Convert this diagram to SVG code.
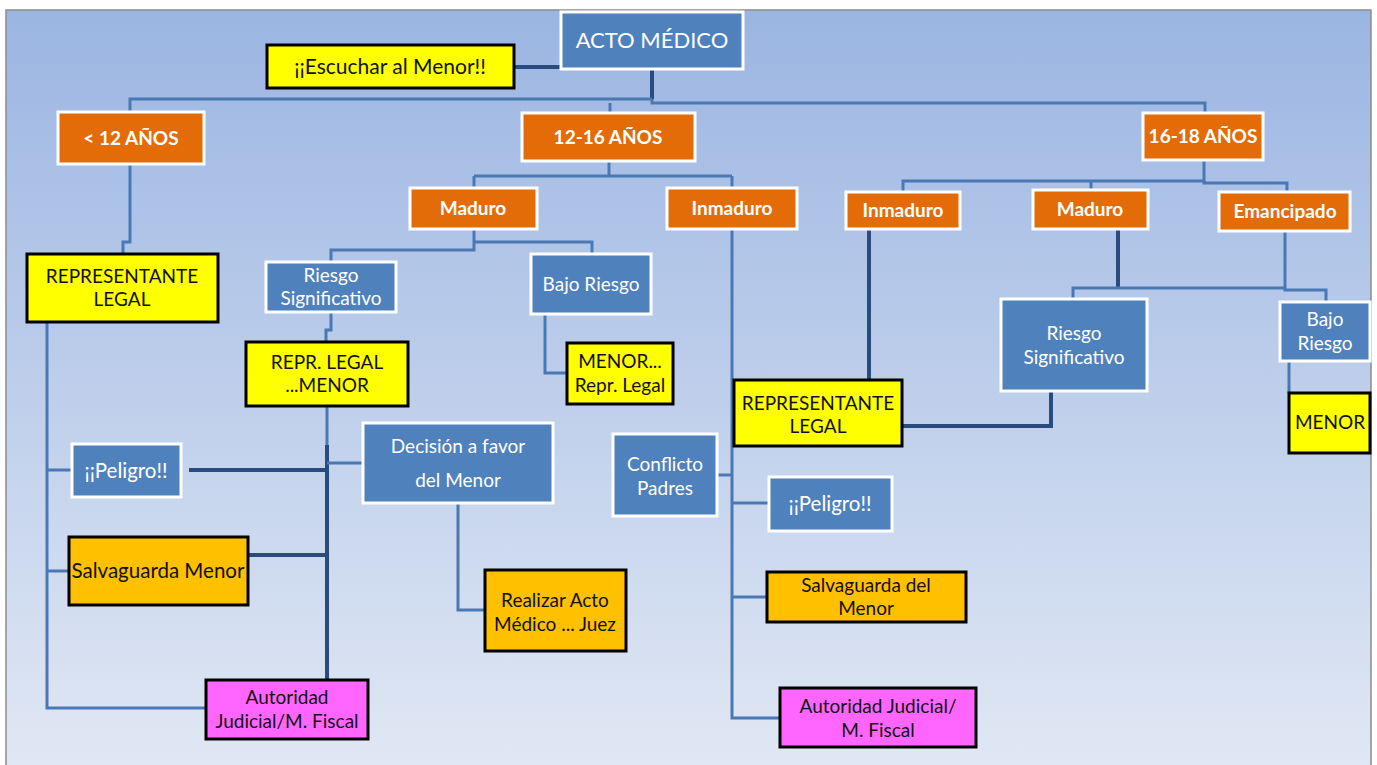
<svg xmlns="http://www.w3.org/2000/svg" width="1377" height="765" viewBox="0 0 1377 765">
<defs>
<linearGradient id="bg" x1="0" y1="0" x2="0" y2="1">
<stop offset="0" stop-color="#9bb5e2"/>
<stop offset="1" stop-color="#e1e8f4"/>
</linearGradient>
</defs>
<style>
text{font-family:Lato,"Open Sans","Liberation Sans",sans-serif;text-anchor:middle;font-size:19px}
.blue rect{fill:#4f81bd;stroke:#fff;stroke-width:3}
.blue text{fill:#fff}
.or rect{fill:#e36c09;stroke:#fff;stroke-width:3}
.or text{fill:#fff;font-weight:bold}
.ye rect{fill:#ffff00;stroke:#000;stroke-width:3}
.go rect{fill:#ffc000;stroke:#000;stroke-width:3}
.ma rect{fill:#ff66ff;stroke:#000;stroke-width:3}
.ye text,.go text,.ma text{fill:#111}
.c{fill:none;stroke:#4a78b4;stroke-width:3}
.d{fill:none;stroke:#284c80;stroke-width:4}
.big{font-size:20.5px}
</style>
<rect x="0" y="0" width="1377" height="765" fill="#fff"/>
<rect x="6" y="10" width="1365" height="760" fill="url(#bg)" stroke="#8c8c8c" stroke-width="1.5"/>
<g id="connectors">
<path class="d" d="M514,67 H561"/>
<path class="d" d="M652,69 V99"/>
<path class="c" d="M652,99 H130 V112"/>
<path class="c" d="M652,99 V103 H1205 V113"/>
<path class="c" d="M610,103 V113"/>
<path class="c" d="M130,164 V242 H123 V254"/>
<path class="c" d="M609,161 V176"/>
<path class="c" d="M474,176 H732"/>
<path class="c" d="M474,176 V188"/>
<path class="c" d="M732,176 V188"/>
<path class="c" d="M474,229 V250 H331 V262"/>
<path class="c" d="M474,242 H592 V254"/>
<path class="c" d="M331,312 V330 H326 V342"/>
<path class="c" d="M327,406 V445"/>
<path class="d" d="M327,445 V680"/>
<path class="d" d="M189,470 H327"/>
<path class="c" d="M327,463 H363"/>
<path class="d" d="M248,555 H327"/>
<path class="c" d="M47,322 V708 H206"/>
<path class="c" d="M47,470 H72"/>
<path class="c" d="M47,571 H69"/>
<path class="c" d="M545,314 V373 H567"/>
<path class="c" d="M458,503 V610 H485"/>
<path class="c" d="M732,229 V718 H780"/>
<path class="c" d="M717,475 H732"/>
<path class="c" d="M732,503 H769"/>
<path class="c" d="M732,597 H767"/>
<path class="c" d="M1204,160 V181 H903 V192"/>
<path class="c" d="M1091,181 V190"/>
<path class="c" d="M1204,181 V183 H1287 V192"/>
<path class="d" d="M869,229 V380"/>
<path class="d" d="M1118,229 V288"/>
<path class="c" d="M1073,299 V288 H1285"/>
<path class="c" d="M1285,231 V290 H1326 V302"/>
<path class="d" d="M1051,391 V426 H902"/>
<path class="c" d="M1289,361 V393"/>
</g>
<g id="acto" class="blue"><rect x="561" y="12" width="182" height="57"/><text x="652" y="48" style="font-size:22px">ACTO MÉDICO</text></g>
<g id="escuchar" class="ye"><rect x="267" y="45" width="247" height="43"/><text x="390" y="74" style="font-size:21px">¡¡Escuchar al Menor!!</text></g>
<g id="lt12" class="or"><rect x="58" y="112" width="146" height="52"/><text x="131" y="145">&lt; 12 AÑOS</text></g>
<g id="a1216" class="or"><rect x="522" y="113" width="173" height="48"/><text x="608" y="144">12-16 AÑOS</text></g>
<g id="a1618" class="or"><rect x="1143" y="113" width="120" height="47"/><text x="1203" y="143">16-18 AÑOS</text></g>
<g id="maduro1" class="or"><rect x="410" y="188" width="127" height="41"/><text x="473" y="215">Maduro</text></g>
<g id="inmaduro1" class="or"><rect x="667" y="188" width="130" height="41"/><text x="732" y="215">Inmaduro</text></g>
<g id="inmaduro2" class="or"><rect x="846" y="192" width="114" height="37"/><text x="903" y="217">Inmaduro</text></g>
<g id="maduro2" class="or"><rect x="1033" y="190" width="115" height="39"/><text x="1090" y="216">Maduro</text></g>
<g id="emancipado" class="or"><rect x="1219" y="192" width="131" height="39"/><text x="1285" y="218">Emancipado</text></g>
<g id="rl1" class="ye"><rect x="27" y="254" width="191" height="68"/><text x="122" y="283">REPRESENTANTE</text><text x="122" y="306">LEGAL</text></g>
<g id="rs1" class="blue"><rect x="266" y="262" width="130" height="50"/><text x="331" y="282">Riesgo</text><text x="331" y="305">Significativo</text></g>
<g id="br1" class="blue"><rect x="531" y="254" width="120" height="60"/><text x="591" y="291">Bajo Riesgo</text></g>
<g id="rlm" class="ye"><rect x="246" y="342" width="162" height="64"/><text x="327" y="369">REPR. LEGAL</text><text x="327" y="392">...MENOR</text></g>
<g id="mrl" class="ye"><rect x="567" y="343" width="106" height="61"/><text x="620" y="368">MENOR...</text><text x="620" y="392">Repr. Legal</text></g>
<g id="rl2" class="ye"><rect x="734" y="380" width="168" height="66"/><text x="818" y="410">REPRESENTANTE</text><text x="818" y="433">LEGAL</text></g>
<g id="rs2" class="blue"><rect x="1001" y="299" width="146" height="92"/><text x="1074" y="340">Riesgo</text><text x="1074" y="364">Significativo</text></g>
<g id="br2" class="blue"><rect x="1280" y="302" width="90" height="59"/><text x="1325" y="326">Bajo</text><text x="1325" y="350">Riesgo</text></g>
<g id="menor" class="ye"><rect x="1289" y="393" width="81" height="60"/><text x="1330" y="429">MENOR</text></g>
<g id="peligro1" class="blue"><rect x="72" y="444" width="109" height="53"/><text x="126" y="478" class="big">¡¡Peligro!!</text></g>
<g id="decision" class="blue"><rect x="363" y="423" width="190" height="80"/><text x="458" y="453">Decisión a favor</text><text x="458" y="487">del Menor</text></g>
<g id="conflicto" class="blue"><rect x="613" y="434" width="104" height="82"/><text x="665" y="471">Conflicto</text><text x="665" y="495">Padres</text></g>
<g id="peligro2" class="blue"><rect x="769" y="477" width="123" height="54"/><text x="830" y="511" class="big">¡¡Peligro!!</text></g>
<g id="salv1" class="go"><rect x="69" y="537" width="179" height="68"/><text x="158" y="578" class="big">Salvaguarda Menor</text></g>
<g id="realizar" class="go"><rect x="485" y="570" width="141" height="81"/><text x="555" y="607">Realizar Acto</text><text x="555" y="631">Médico ... Juez</text></g>
<g id="salv2" class="go"><rect x="767" y="572" width="199" height="50"/><text x="866" y="592">Salvaguarda del</text><text x="866" y="615">Menor</text></g>
<g id="aut1" class="ma"><rect x="206" y="680" width="162" height="59"/><text x="287" y="704">Autoridad</text><text x="287" y="728">Judicial/M. Fiscal</text></g>
<g id="aut2" class="ma"><rect x="780" y="688" width="196" height="59"/><text x="878" y="713">Autoridad Judicial/</text><text x="878" y="737">M. Fiscal</text></g>
</svg>
